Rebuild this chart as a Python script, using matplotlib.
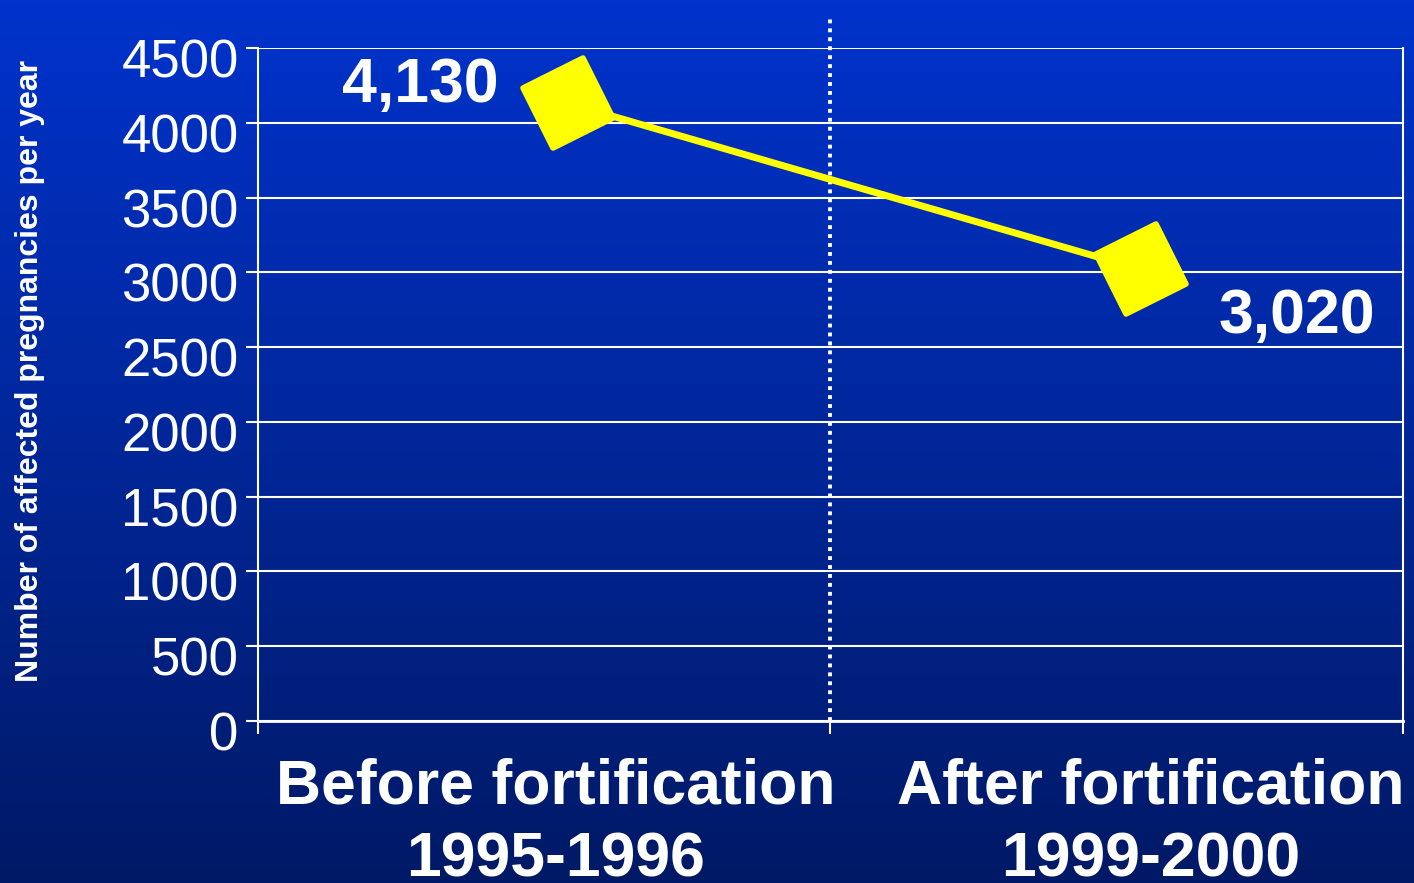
import matplotlib
matplotlib.use('Agg')
import matplotlib.pyplot as plt
import numpy as np
from matplotlib.markers import MarkerStyle
from matplotlib.transforms import Affine2D, ScaledTranslation

periods = ['Before fortification\n1995-1996', 'After fortification\n1999-2000']
cases = [4130, 3020]
case_labels = ['4,130', '3,020']
yticks = [0, 500, 1000, 1500, 2000, 2500, 3000, 3500, 4000, 4500]

plt.rcParams['font.family'] = ['Liberation Sans', 'DejaVu Sans']

fig = plt.figure(figsize=(14.14, 8.83), dpi=100)

# blue gradient background
bg = fig.add_axes([0, 0, 1, 1], zorder=-10)
grad = np.linspace(0, 1, 256)[:, None]
top = np.array([0.0, 0.20, 0.80])
bottom = np.array([0.0, 0.10, 0.40])
img = top + (bottom - top) * grad[:, :, None]
bg.imshow(np.repeat(img, 2, axis=1), aspect='auto', extent=[0, 1, 0, 1])
bg.axis('off')

ax = fig.add_axes([0.1825, 0.1835, 0.8095, 0.7621])
ax.patch.set_alpha(0)

x = np.arange(len(periods)) + 0.5
# markers sit a little right of the category centres in the original slide
nudge = ax.transData + ScaledTranslation(0.24, 0, fig.dpi_scale_trans)
diamond = MarkerStyle('s', transform=Affine2D().rotate_deg(26), joinstyle='round')
ax.plot(x, cases, color='#FFFF00', lw=5, zorder=3, solid_capstyle='butt',
        transform=nudge)
ax.plot(x, cases, linestyle='none', marker=diamond, ms=48, mfc='#FFFF00',
        mec='#FFFF00', mew=4, zorder=4, transform=nudge)

offsets = [(-89, 13), (130, -34)]
for xi, v, lab, off in zip(x, cases, case_labels, offsets):
    ax.annotate(lab, (xi, v), xytext=off, textcoords='offset points',
                ha='center', va='center', fontsize=45, fontweight='bold',
                color='white', zorder=5)

ax.set_xlim(0, 2)
ax.set_ylim(0, 4500)
ax.set_yticks(yticks)
ax.grid(axis='y', color='white', lw=1.5)
ax.set_axisbelow(True)

# separators at category boundaries, labels placed between them
ax.set_xticks([0, 1, 2])
ax.set_xticklabels([])
ax.set_xticks([0.52, 1.56], minor=True)
ax.set_xticklabels(periods, minor=True, fontsize=45, fontweight='bold',
                   color='white', linespacing=1.32)
ax.tick_params(axis='x', which='major', length=9, width=1.5, color='white')
ax.tick_params(axis='x', which='minor', length=0, pad=26)
ax.tick_params(axis='y', length=9, width=1.5, color='white', labelsize=38,
               labelcolor='white', pad=5)
shift = ScaledTranslation(0, -10 / 100, fig.dpi_scale_trans)
for lab in ax.get_yticklabels():
    lab.set_transform(lab.get_transform() + shift)

for side in ['left', 'right']:
    ax.spines[side].set_color('white')
    ax.spines[side].set_linewidth(1.5)
ax.spines['bottom'].set_color('white')
ax.spines['bottom'].set_linewidth(2)
ax.spines['top'].set_visible(False)

ax.axvline(1, ymin=0, ymax=1.049, color='white', lw=2.8,
           linestyle=(0, (1, 1.3)), clip_on=False, zorder=2)

fig.text(0.021, 0.58, 'Number of affected pregnancies per year', rotation=90,
         ha='center', va='center', fontsize=23, fontweight='bold',
         color='white')

fig.savefig('out.png', dpi=100)
